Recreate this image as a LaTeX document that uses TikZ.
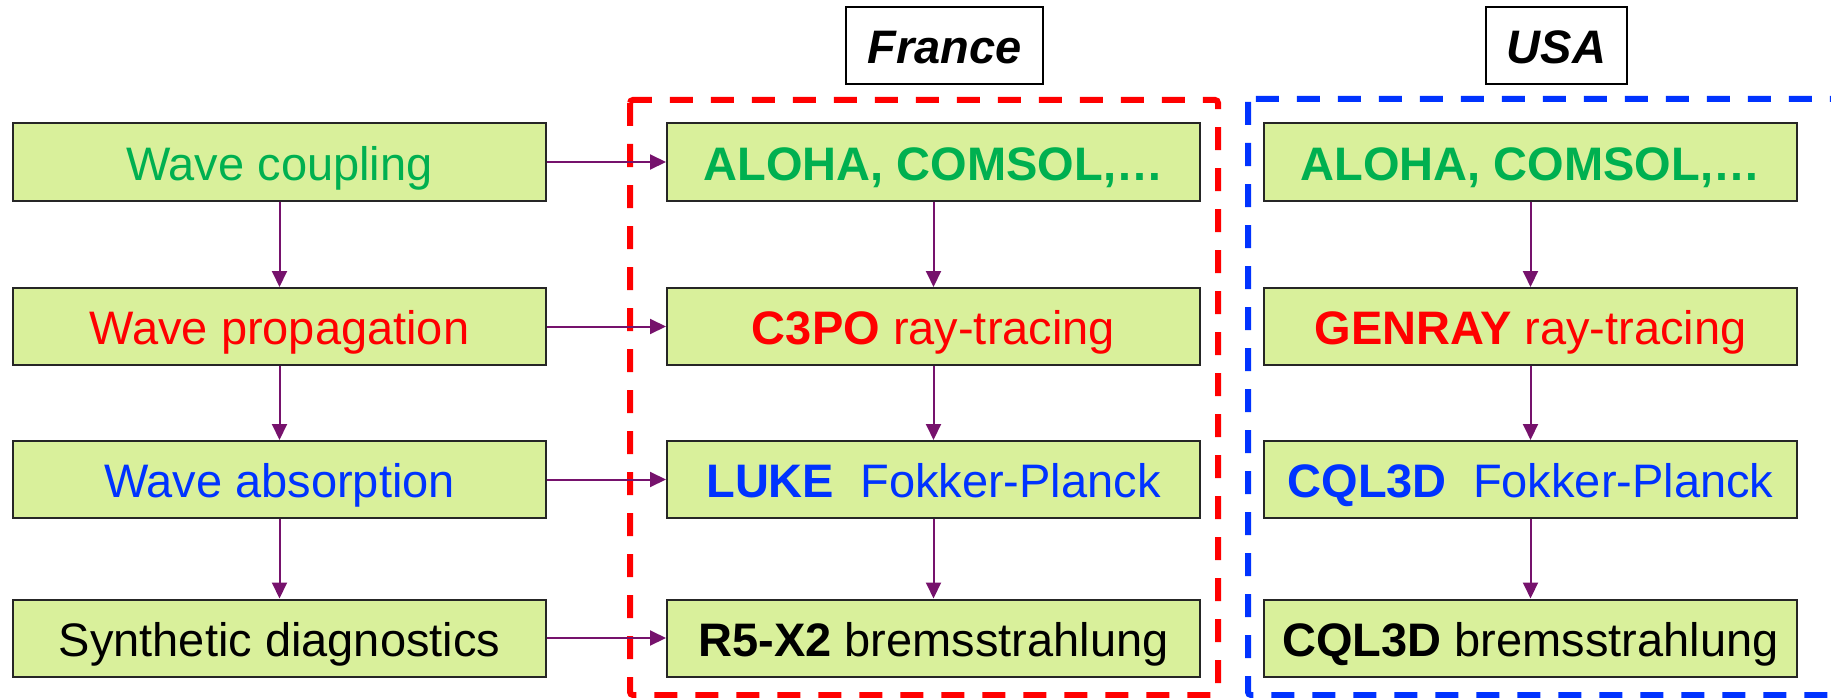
\documentclass[tikz,border=0pt]{standalone}
\usepackage{fontspec}
\setmainfont{Liberation Sans}
\usetikzlibrary{arrows.meta}
\definecolor{boxfill}{RGB}{217,240,155}
\definecolor{tgreen}{RGB}{0,176,80}
\definecolor{tred}{RGB}{255,0,0}
\definecolor{tblue}{RGB}{0,51,255}
\definecolor{arr}{RGB}{118,18,108}
\begin{document}
\begin{tikzpicture}[x=1pt,y=-1pt,
  stagebox/.style={draw=black!85, line width=2pt, fill=boxfill, minimum width=533pt, minimum height=77pt, inner sep=0pt, text height=36pt, text depth=0pt, font=\fontsize{47}{56}\selectfont},
  titlebox/.style={draw=black, line width=2pt, fill=white, minimum height=77pt, inner sep=0pt, text height=36pt, text depth=0pt, font=\fontsize{47}{56}\selectfont\bfseries\itshape},
  flow/.style={draw=arr, line width=2pt, -{Triangle[length=16pt,width=15pt]}},
  frame/.style={line width=6pt, dash pattern=on 23pt off 18pt, rounded corners=3pt}]
\useasboundingbox (0,0) rectangle (1831,698);
\clip (0,0) rectangle (1831,698);
% dashed frames
\draw[frame, draw=tred] (630,100) rectangle (1218,695);
\draw[frame, draw=tblue] (1248,99) rectangle (1860,695);
% titles
\node[titlebox, minimum width=197pt] (fr) at (944.5,45.5) {France};
\node[titlebox, minimum width=141pt] (us) at (1556.5,45.5) {USA};
% left column
\node[stagebox] (g1) at (279.5,162) {\color{tgreen}Wave coupling};
\node[stagebox] (g2) at (279.5,326.5) {\color{tred}Wave propagation};
\node[stagebox] (g3) at (279.5,479.5) {\color{tblue}Wave absorption};
\node[stagebox] (g4) at (279.5,638) {Synthetic diagnostics};
% France column
\node[stagebox] (f1) at (933.5,162) {\color{tgreen}\textbf{ALOHA, COMSOL,…}};
\node[stagebox] (f2) at (933.5,326.5) {\color{tred}\textbf{C3PO} ray-tracing};
\node[stagebox] (f3) at (933.5,479.5) {\color{tblue}\textbf{LUKE}\ \ Fokker-Planck};
\node[stagebox] (f4) at (933.5,638) {\textbf{R5-X2} bremsstrahlung};
% USA column
\node[stagebox] (u1) at (1530.5,162) {\color{tgreen}\textbf{ALOHA, COMSOL,…}};
\node[stagebox] (u2) at (1530.5,326.5) {\color{tred}\textbf{GENRAY} ray-tracing};
\node[stagebox] (u3) at (1530.5,479.5) {\color{tblue}\textbf{CQL3D}\ \ Fokker-Planck};
\node[stagebox] (u4) at (1530.5,638) {\textbf{CQL3D} bremsstrahlung};
% vertical arrows
\draw[flow] (g1) -- (g2);
\draw[flow] (g2) -- (g3);
\draw[flow] (g3) -- (g4);
\draw[flow] (f1) -- (f2);
\draw[flow] (f2) -- (f3);
\draw[flow] (f3) -- (f4);
\draw[flow] (u1) -- (u2);
\draw[flow] (u2) -- (u3);
\draw[flow] (u3) -- (u4);
% horizontal arrows
\draw[flow] (g1) -- (f1);
\draw[flow] (g2) -- (f2);
\draw[flow] (g3) -- (f3);
\draw[flow] (g4) -- (f4);
\end{tikzpicture}
\end{document}
